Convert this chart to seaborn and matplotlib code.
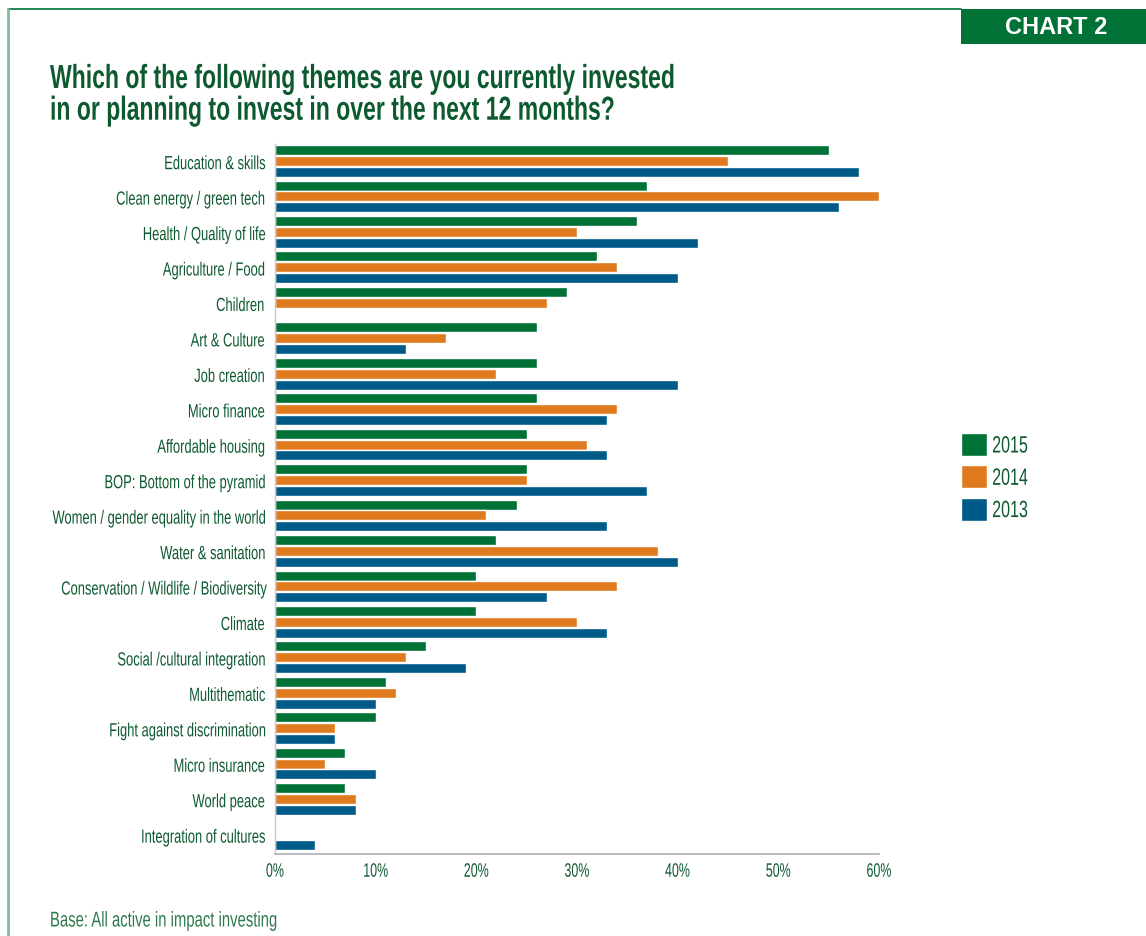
import matplotlib
matplotlib.use("Agg")
import matplotlib.pyplot as plt
from matplotlib.lines import Line2D
from matplotlib.patches import Rectangle
from matplotlib.patheffects import AbstractPathEffect
from matplotlib.transforms import Affine2D
import pandas as pd
import seaborn as sns

# ---- data -------------------------------------------------------------
themes = [
    "Education & skills",
    "Clean energy / green tech",
    "Health / Quality of life",
    "Agriculture / Food",
    "Children",
    "Art & Culture",
    "Job creation",
    "Micro finance",
    "Affordable housing",
    "BOP: Bottom of the pyramid",
    "Women / gender equality in the world",
    "Water & sanitation",
    "Conservation / Wildlife / Biodiversity",
    "Climate",
    "Social /cultural integration",
    "Multithematic",
    "Fight against discrimination",
    "Micro insurance",
    "World peace",
    "Integration of cultures",
]
years = ["2015", "2014", "2013"]
v2015 = [55, 37, 36, 32, 29, 26, 26, 26, 25, 25, 24, 22, 20, 20, 15, 11, 10, 7, 7, None]
v2014 = [45, 60, 30, 34, 27, 17, 22, 34, 31, 25, 21, 38, 34, 30, 13, 12, 6, 5, 8, None]
v2013 = [58, 56, 42, 40, None, 13, 40, 33, 33, 37, 33, 40, 27, 33, 19, 10, 6, 10, 8, 4]
x_ticks = [0, 10, 20, 30, 40, 50, 60]
x_tick_labels = ["0%", "10%", "20%", "30%", "40%", "50%", "60%"]

colors = {"2015": "#007236", "2014": "#E07A1E", "2013": "#005A88"}
text_green = "#0E5A30"

rows = []
for yr, vals in zip(years, [v2015, v2014, v2013]):
    for th, v in zip(themes, vals):
        if v is not None:
            rows.append({"theme": th, "year": yr, "value": v})
df = pd.DataFrame(rows)


class Condense(AbstractPathEffect):
    """Squeeze glyph outlines horizontally to imitate a condensed typeface."""

    def __init__(self, sx=0.67, anchor="left", offset=(0.0, 0.0)):
        super().__init__(offset=offset)
        self.sx = sx
        self.anchor = anchor

    def draw_path(self, renderer, gc, tpath, affine, rgbFace=None):
        ext = tpath.get_extents()
        if self.anchor == "right":
            x0 = ext.x1
        elif self.anchor == "center":
            x0 = 0.5 * (ext.x0 + ext.x1)
        else:
            x0 = 0.0
        squeeze = Affine2D().translate(-x0, 0).scale(self.sx, 1).translate(x0, 0)
        renderer.draw_path(gc, tpath,
                           squeeze + affine + self._offset_transform(renderer),
                           rgbFace)


SX = 0.68

# ---- figure -----------------------------------------------------------
sns.set_style("white")
plt.rcParams["font.family"] = ["Liberation Sans", "DejaVu Sans"]

fig = plt.figure(figsize=(11.46, 9.37), dpi=100)
ax = fig.add_axes([275 / 1146, 1 - 855 / 937, (879 - 275) / 1146, (855 - 145) / 937])

sns.barplot(
    data=df, y="theme", x="value", hue="year",
    order=themes, hue_order=years, palette=colors,
    orient="h", width=0.92, gap=0.08, saturation=1,
    errorbar=None, ax=ax,
)

ax.set_xlim(0, 60)
ax.set_ylim(19.55, -0.48)
ax.set_xlabel("")
ax.set_ylabel("")
ax.set_xticks(x_ticks)
ax.set_xticklabels(x_tick_labels)
ax.tick_params(axis="x", direction="in", length=12, width=1, color="#B0B0B0",
               pad=7, labelsize=14, labelcolor=text_green)
ax.tick_params(axis="y", length=0, pad=7.6, labelsize=13.7, labelcolor=text_green)
for lbl in ax.get_xticklabels():
    lbl.set_path_effects([Condense(0.64, "center")])
for lbl in ax.get_yticklabels():
    lbl.set_path_effects([Condense(SX, "right", offset=(0, -1.2))])

for side in ["top", "right"]:
    ax.spines[side].set_visible(False)
ax.spines["left"].set_color("#C8C8C8")
ax.spines["left"].set_linewidth(1)
ax.spines["bottom"].set_color("#B0B0B0")
ax.spines["bottom"].set_linewidth(1.2)

# legend at the right side
sns.move_legend(
    ax, loc="upper left", bbox_to_anchor=(961 / 1146, 1 - 434 / 937),
    bbox_transform=fig.transFigure, frameon=False, title=None,
    fontsize=17, handlelength=1.12, handleheight=1.12, labelspacing=0.33,
    handletextpad=0.2, borderpad=0, borderaxespad=0,
)
for t in ax.get_legend().get_texts():
    t.set_color(text_green)
    t.set_path_effects([Condense(SX, "left")])

# ---- frame, header box, title, footnote -------------------------------
fig.add_artist(Line2D([8 / 1146, 961 / 1146], [1 - 10 / 937] * 2,
                      transform=fig.transFigure, color="#007236", lw=1.2))
fig.add_artist(Line2D([8 / 1146] * 2, [0, 1 - 10 / 937],
                      transform=fig.transFigure, color="#7DBF98", lw=2))
fig.add_artist(Rectangle((961 / 1146, 1 - 45 / 937), 185 / 1146, 35 / 937,
                         transform=fig.transFigure, facecolor="#007236",
                         edgecolor="none"))
fig.text(1056 / 1146, 1 - 27 / 937, "CHART 2", color="white", fontsize=17,
         fontweight="bold", ha="center", va="center")

title = fig.text(50 / 1146, 1 - 65 / 937,
                 "Which of the following themes are you currently invested\n"
                 "in or planning to invest in over the next 12 months?",
                 color=text_green, fontsize=24, fontweight="bold",
                 ha="left", va="top", linespacing=1.03)
title.set_path_effects([Condense(0.69, "left")])

foot = fig.text(50 / 1146, 1 - 922 / 937, "Base: All active in impact investing",
                color="#2F7A4C", fontsize=15.4, ha="left", va="center")
foot.set_path_effects([Condense(0.695, "left")])

fig.savefig("out.png", dpi=100)
